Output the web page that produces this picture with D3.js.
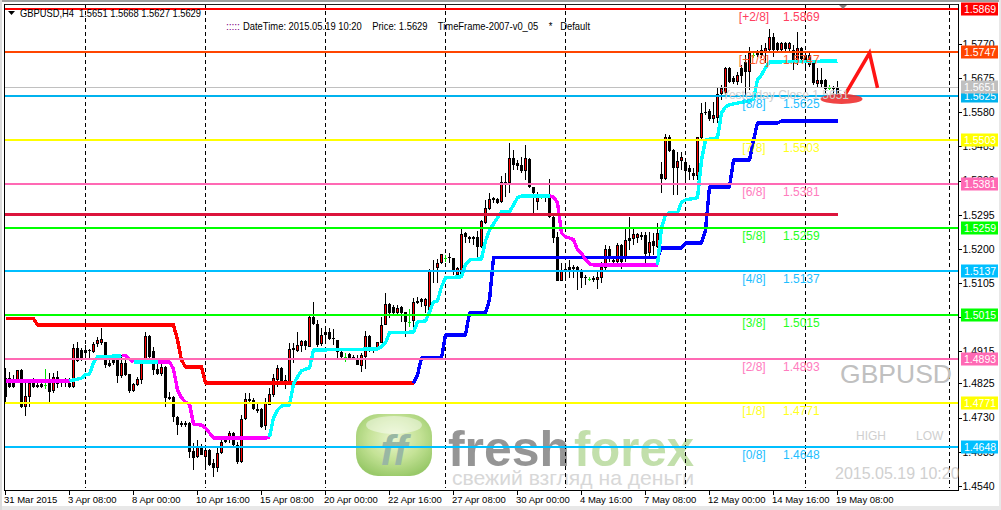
<!DOCTYPE html>
<html><head><meta charset="utf-8">
<style>html,body{margin:0;padding:0;background:#fff;overflow:hidden}svg{display:block}text{font-family:"Liberation Sans",Arial,sans-serif}</style>
<script src="https://cdn.jsdelivr.net/npm/d3@7/dist/d3.min.js"></script></head><body>
<svg id="c" width="1001" height="510"></svg>
<script>
const opens=[1.4840,1.4840,1.4837,1.4835,1.4863,1.4760,1.4787,1.4826,1.4821,1.4823,1.4821,1.4829,1.4804,1.4843,1.4835,1.4832,1.4826,1.4815,1.4924,1.4918,1.4918,1.4918,1.4913,1.4935,1.4938,1.4941,1.4882,1.4890,1.4904,1.4846,1.4882,1.4851,1.4804,1.4821,1.4835,1.4885,1.4957,1.4915,1.4865,1.4851,1.4871,1.4787,1.4787,1.4732,1.4715,1.4715,1.4715,1.4637,1.4620,1.4648,1.4620,1.4640,1.4604,1.4590,1.4631,1.4668,1.4676,1.4687,1.4654,1.4606,1.4726,1.4782,1.4779,1.4748,1.4754,1.4707,1.4765,1.4793,1.4835,1.4868,1.4835,1.4829,1.4924,1.4915,1.4929,1.4943,1.4927,1.5010,1.4991,1.4935,1.4968,1.4968,1.4952,1.4946,1.4913,1.4899,1.4907,1.4899,1.4890,1.4874,1.4899,1.4957,1.4924,1.4924,1.4938,1.4988,1.5046,1.5038,1.5021,1.5038,1.5024,1.4996,1.4999,1.5055,1.5060,1.5041,1.5024,1.5141,1.5147,1.5161,1.5175,1.5177,1.5175,1.5127,1.5127,1.5244,1.5233,1.5233,1.5233,1.5205,1.5272,1.5311,1.5342,1.5339,1.5330,1.5378,1.5383,1.5453,1.5439,1.5433,1.5417,1.5450,1.5372,1.5330,1.5347,1.5344,1.5342,1.5289,1.5233,1.5110,1.5144,1.5141,1.5149,1.5149,1.5141,1.5122,1.5116,1.5119,1.5113,1.5119,1.5147,1.5200,1.5169,1.5163,1.5211,1.5175,1.5230,1.5227,1.5230,1.5239,1.5239,1.5188,1.5222,1.5205,1.5408,1.5394,1.5511,1.5475,1.5425,1.5445,1.5442,1.5425,1.5411,1.5403,1.5509,1.5581,1.5584,1.5562,1.5564,1.5631,1.5634,1.5704,1.5676,1.5665,1.5704,1.5720,1.5692,1.5740,1.5745,1.5754,1.5748,1.5754,1.5790,1.5773,1.5754,1.5773,1.5757,1.5754,1.5720,1.5759,1.5740,1.5712,1.5718,1.5659,1.5670,1.5670,1.5648,1.5648,1.5651];
const highs=[1.4868,1.4857,1.4849,1.4863,1.4865,1.4829,1.4835,1.4840,1.4826,1.4835,1.4865,1.4854,1.4854,1.4860,1.4837,1.4840,1.4840,1.4935,1.4941,1.4924,1.4932,1.4921,1.4941,1.4954,1.4980,1.4941,1.4890,1.4904,1.4904,1.4904,1.4904,1.4851,1.4826,1.4843,1.4888,1.4968,1.4960,1.4927,1.4890,1.4885,1.4874,1.4801,1.4790,1.4734,1.4721,1.4721,1.4718,1.4659,1.4668,1.4656,1.4643,1.4643,1.4615,1.4645,1.4673,1.4676,1.4693,1.4690,1.4662,1.4737,1.4798,1.4798,1.4785,1.4768,1.4757,1.4785,1.4812,1.4851,1.4877,1.4871,1.4849,1.4938,1.4938,1.4968,1.4946,1.4946,1.5013,1.5052,1.5002,1.4980,1.4982,1.4980,1.4977,1.4946,1.4918,1.4910,1.4910,1.4904,1.4904,1.4910,1.4971,1.4960,1.4927,1.4941,1.5010,1.5077,1.5049,1.5044,1.5044,1.5041,1.5024,1.5032,1.5063,1.5066,1.5063,1.5063,1.5144,1.5169,1.5172,1.5186,1.5183,1.5188,1.5175,1.5149,1.5255,1.5247,1.5236,1.5236,1.5250,1.5280,1.5336,1.5355,1.5344,1.5342,1.5403,1.5411,1.5495,1.5475,1.5447,1.5456,1.5489,1.5453,1.5372,1.5358,1.5350,1.5350,1.5394,1.5291,1.5247,1.5161,1.5161,1.5169,1.5155,1.5152,1.5144,1.5127,1.5122,1.5124,1.5135,1.5163,1.5211,1.5208,1.5177,1.5216,1.5213,1.5258,1.5289,1.5261,1.5244,1.5247,1.5247,1.5247,1.5244,1.5272,1.5442,1.5520,1.5517,1.5478,1.5470,1.5470,1.5447,1.5433,1.5425,1.5511,1.5606,1.5609,1.5589,1.5609,1.5648,1.5656,1.5706,1.5706,1.5681,1.5692,1.5712,1.5740,1.5762,1.5748,1.5754,1.5768,1.5773,1.5812,1.5801,1.5776,1.5776,1.5776,1.5776,1.5768,1.5804,1.5762,1.5740,1.5745,1.5720,1.5704,1.5704,1.5673,1.5656,1.5654,1.5668];
const lows=[1.4773,1.4812,1.4812,1.4835,1.4757,1.4734,1.4760,1.4812,1.4812,1.4812,1.4810,1.4773,1.4798,1.4812,1.4815,1.4815,1.4812,1.4812,1.4885,1.4888,1.4890,1.4893,1.4910,1.4927,1.4932,1.4868,1.4871,1.4877,1.4826,1.4840,1.4846,1.4798,1.4801,1.4818,1.4823,1.4882,1.4896,1.4849,1.4849,1.4846,1.4760,1.4779,1.4718,1.4682,1.4704,1.4704,1.4617,1.4584,1.4617,1.4626,1.4584,1.4595,1.4565,1.4579,1.4629,1.4659,1.4659,1.4648,1.4601,1.4604,1.4723,1.4771,1.4751,1.4743,1.4701,1.4695,1.4765,1.4787,1.4815,1.4829,1.4810,1.4821,1.4882,1.4913,1.4913,1.4918,1.4927,1.4988,1.4927,1.4929,1.4941,1.4946,1.4932,1.4890,1.4890,1.4885,1.4890,1.4890,1.4877,1.4857,1.4865,1.4913,1.4910,1.4918,1.4938,1.4988,1.5007,1.5019,1.5016,1.4996,1.4954,1.4982,1.4968,1.5046,1.5038,1.5021,1.5021,1.5105,1.5105,1.5158,1.5163,1.5161,1.5127,1.5124,1.5122,1.5216,1.5216,1.5211,1.5175,1.5202,1.5269,1.5308,1.5328,1.5325,1.5328,1.5344,1.5355,1.5420,1.5420,1.5411,1.5392,1.5369,1.5300,1.5308,1.5339,1.5330,1.5286,1.5216,1.5110,1.5110,1.5119,1.5119,1.5119,1.5085,1.5091,1.5099,1.5110,1.5108,1.5088,1.5105,1.5141,1.5163,1.5161,1.5161,1.5144,1.5163,1.5197,1.5211,1.5216,1.5225,1.5161,1.5177,1.5183,1.5202,1.5355,1.5392,1.5470,1.5350,1.5350,1.5420,1.5392,1.5392,1.5392,1.5392,1.5503,1.5573,1.5556,1.5550,1.5550,1.5614,1.5628,1.5662,1.5659,1.5656,1.5662,1.5623,1.5642,1.5731,1.5734,1.5731,1.5718,1.5745,1.5734,1.5745,1.5748,1.5748,1.5748,1.5698,1.5712,1.5726,1.5706,1.5706,1.5656,1.5648,1.5648,1.5631,1.5642,1.5628,1.5627];
const closes=[1.4787,1.4815,1.4815,1.4863,1.4760,1.4790,1.4826,1.4815,1.4815,1.4815,1.4821,1.4801,1.4843,1.4823,1.4826,1.4826,1.4815,1.4924,1.4888,1.4893,1.4910,1.4915,1.4935,1.4946,1.4949,1.4877,1.4874,1.4882,1.4846,1.4882,1.4849,1.4804,1.4823,1.4837,1.4885,1.4957,1.4899,1.4863,1.4851,1.4871,1.4785,1.4782,1.4732,1.4709,1.4709,1.4709,1.4634,1.4617,1.4648,1.4626,1.4640,1.4598,1.4590,1.4631,1.4662,1.4662,1.4687,1.4654,1.4606,1.4726,1.4782,1.4776,1.4754,1.4754,1.4704,1.4771,1.4796,1.4840,1.4868,1.4832,1.4829,1.4921,1.4918,1.4932,1.4943,1.4929,1.5010,1.4991,1.4932,1.4960,1.4960,1.4949,1.4949,1.4913,1.4899,1.4899,1.4893,1.4893,1.4877,1.4904,1.4957,1.4924,1.4918,1.4941,1.4988,1.5046,1.5021,1.5021,1.5035,1.5021,1.4996,1.4996,1.5052,1.5049,1.5052,1.5060,1.5141,1.5138,1.5161,1.5186,1.5175,1.5175,1.5141,1.5147,1.5241,1.5233,1.5227,1.5227,1.5205,1.5277,1.5314,1.5339,1.5336,1.5328,1.5386,1.5386,1.5453,1.5433,1.5431,1.5417,1.5453,1.5372,1.5355,1.5344,1.5347,1.5342,1.5289,1.5230,1.5110,1.5141,1.5141,1.5149,1.5144,1.5141,1.5119,1.5119,1.5116,1.5113,1.5122,1.5149,1.5200,1.5177,1.5163,1.5211,1.5163,1.5225,1.5222,1.5241,1.5241,1.5233,1.5186,1.5219,1.5208,1.5244,1.5394,1.5511,1.5472,1.5425,1.5445,1.5456,1.5417,1.5414,1.5403,1.5511,1.5578,1.5578,1.5562,1.5573,1.5631,1.5648,1.5704,1.5665,1.5665,1.5684,1.5681,1.5692,1.5745,1.5740,1.5740,1.5740,1.5759,1.5790,1.5754,1.5754,1.5773,1.5757,1.5773,1.5720,1.5759,1.5729,1.5720,1.5740,1.5662,1.5670,1.5659,1.5645,1.5648,1.5645,1.5629];

const redBars=[0,7,8,42,43,44,45,49,50,102];
const redPrices=[1.5005,1.5005,1.4988,1.4988,1.4946,1.4890,1.4871,1.4871,1.4826,1.4826];
const blueBars=[102,103,104,109,110,115,116,120,121,122,163,164,169,170,174,175,176,181,182,186,187,188,193,194,208];
const bluePrices=[1.4826,1.4849,1.4896,1.4896,1.4960,1.4960,1.5021,1.5021,1.5058,1.5175,1.5175,1.5202,1.5202,1.5216,1.5216,1.5252,1.5372,1.5372,1.5447,1.5447,1.5503,1.5550,1.5550,1.5556,1.5556];
const magentaBars=[[0,16],[29,30,31,32],[38,41,42,43,44,45,46,47,49,50,51,52,65,66],[136,137,138,139,140,141,142,143,144,145,146,147,163]];
const magentaPrices=[[1.4832,1.4832],[1.4902,1.4902,1.4893,1.4885],[1.4885,1.4885,1.4865,1.4807,1.4785,1.4773,1.4768,1.4712,1.4709,1.4701,1.4687,1.4673,1.4673,1.4676],[1.5347,1.5344,1.5328,1.5244,1.5233,1.5230,1.5225,1.5197,1.5188,1.5169,1.5158,1.5155,1.5155]];
const cyanBars=[[16,18,19,20,21,22,23,29],[32,38],[66,67,68,69,71,72,73,74,75,76,77,93,94,95,96,102,103,105,106,107,108,109,110,114,115,116,119,120,121,122,123,124,126,127,128,129,136],[163,164,165,166,168,169,170,173,174,175,178,179,180,181,186,187,188,189,190,191,208]];
const cyanPrices=[[1.4832,1.4837,1.4840,1.4849,1.4851,1.4882,1.4899,1.4902],[1.4885,1.4885],[1.4676,1.4729,1.4751,1.4762,1.4765,1.4823,1.4843,1.4860,1.4865,1.4868,1.4918,1.4921,1.4927,1.4938,1.4966,1.4968,1.4996,1.4999,1.5024,1.5052,1.5055,1.5094,1.5119,1.5122,1.5155,1.5169,1.5172,1.5222,1.5252,1.5269,1.5286,1.5303,1.5303,1.5322,1.5342,1.5347,1.5347],[1.5155,1.5258,1.5294,1.5300,1.5300,1.5330,1.5336,1.5342,1.5447,1.5503,1.5509,1.5578,1.5595,1.5601,1.5612,1.5617,1.5670,1.5684,1.5704,1.5720,1.5723]];

const levelPrices=[1.5869,1.5747,1.5625,1.5503,1.5381,1.5259,1.5137,1.5015,1.4893,1.4771,1.4648];
const levelTags=["[+2/8]","[+1/8]","[8/8]","[7/8]","[6/8]","[5/8]","[4/8]","[3/8]","[2/8]","[1/8]","[0/8]"];
const levelColors=["#ff0000","#ff4500","#00b2ee","#ffff00","#ff69b4","#00ff00","#00bfff","#00ff00","#ff69b4","#ffff00","#00bfff"];
const levelTextColors=["#ff4060","#ff5a2a","#1ebeff","#ffff1e","#ff7cbe","#1eff1e","#1ebeff","#1eff1e","#ff7cbe","#ffff1e","#1ebeff"];
const yesterdayClose=1.5651, midline=1.5296;
const yTicks=[1.5770,1.5675,1.5580,1.5485,1.5390,1.5295,1.5200,1.5105,1.5010,1.4915,1.4825,1.4730,1.4635,1.4540];
const timeTickBars=[0,16,32,48,64,80,96,112,128,144,160,176,192,208];
const timeLabels=["31 Mar 2015","3 Apr 08:00","8 Apr 00:00","10 Apr 16:00","15 Apr 08:00","20 Apr 00:00","22 Apr 16:00","27 Apr 08:00","30 Apr 00:00","4 May 16:00","7 May 08:00","12 May 00:00","14 May 16:00","19 May 08:00"];
const gridBars=[20,50,80,110,140,170,200,236];
const arrowBars=[210,216,218], arrowPrices=[1.5631,1.5745,1.5648];
const markBar=209, markPrice=1.5617;

const svg=d3.select("#c");
const x=d3.scaleLinear().domain([0,208]).range([5.5,837.5]);
const y=d3.scaleLinear().domain([1.4648,1.5869]).range([447,8.5]);
const ry=p=>Math.round(y(p));
const L=5,R=958.5,T=4,B=490.5;

svg.append("rect").attr("width",1001).attr("height",510).attr("fill","#fff");
svg.append("rect").attr("width",1001).attr("height",2).attr("fill","#a0a0a0");
svg.append("rect").attr("y",506).attr("width",1001).attr("height",4).attr("fill","#e8e8e8");
svg.append("rect").attr("width",2).attr("height",510).attr("fill","#dcdcdc");
svg.append("rect").attr("x",999).attr("width",2).attr("height",510).attr("fill","#e8e8e8");
const defs=svg.append("defs");
defs.append("clipPath").attr("id","plot").append("rect").attr("x",L).attr("y",T).attr("width",R-L).attr("height",B-T);
const gr=defs.append("radialGradient").attr("id","lg").attr("cx","50%").attr("cy","40%").attr("r","62%");
gr.append("stop").attr("offset","0%").attr("stop-color","#e8f5c9");
gr.append("stop").attr("offset","55%").attr("stop-color","#bfe08c");
gr.append("stop").attr("offset","100%").attr("stop-color","#8fc45a");

// watermark logo
const logo=svg.append("g").attr("opacity",.9);
logo.append("rect").attr("x",356).attr("y",414).attr("width",76).attr("height",62).attr("rx",22).attr("fill","url(#lg)");
logo.append("ellipse").attr("cx",394).attr("cy",425).attr("rx",28).attr("ry",9).attr("fill","#fff").attr("opacity",.45);
logo.append("text").attr("x",394).attr("y",465).attr("text-anchor","middle").attr("font-size",42).attr("font-style","italic").attr("font-weight","bold").attr("fill","#8fb09a").text("ff");
logo.append("text").attr("x",448).attr("y",466).attr("font-size",50).attr("font-weight","bold").attr("fill","#8a8a8a").attr("textLength",122).attr("lengthAdjust","spacingAndGlyphs").text("fresh");
logo.append("text").attr("x",574).attr("y",466).attr("font-size",50).attr("font-weight","bold").attr("fill","#bcdca2").attr("textLength",120).attr("lengthAdjust","spacingAndGlyphs").text("forex");
logo.append("text").attr("x",452).attr("y",485).attr("font-size",21).attr("fill","#d4d4d4").attr("textLength",242).attr("lengthAdjust","spacingAndGlyphs").text("свежий взгляд на деньги");

// grid
svg.append("g").selectAll("line").data(gridBars).join("line")
 .attr("x1",d=>Math.round(x(d))+.5-1).attr("x2",d=>Math.round(x(d))+.5-1).attr("y1",T).attr("y2",488)
 .attr("stroke","#000").attr("stroke-dasharray","4 3").attr("shape-rendering","crispEdges");

// candles
const bars=d3.range(opens.length);
const g=svg.append("g").attr("shape-rendering","crispEdges");
const isDoji=i=>opens[i]===closes[i];
g.selectAll("line.w").data(bars).join("line").attr("class","w")
 .attr("x1",i=>x(i)).attr("x2",i=>x(i)).attr("y1",i=>y(highs[i])).attr("y2",i=>y(lows[i]))
 .attr("stroke",i=>isDoji(i)?"#00e000":"#000");
g.selectAll("rect.b").data(bars).join("rect").attr("class","b")
 .attr("x",i=>x(i)-1.5).attr("width",3)
 .attr("y",i=>y(Math.max(opens[i],closes[i])))
 .attr("height",i=>Math.max(1,Math.abs(y(opens[i])-y(closes[i]))))
 .attr("fill",i=>isDoji(i)?"#00e000":"#000");
g.selectAll("rect.r").data(bars.filter(i=>closes[i]>opens[i]&&y(opens[i])-y(closes[i])>3)).join("rect").attr("class","r")
 .attr("x",i=>x(i)-.5).attr("width",1)
 .attr("y",i=>y(closes[i])+1)
 .attr("height",i=>y(opens[i])-y(closes[i])-2)
 .attr("fill","#ff0000");

// indicator steps
const ln=(bs,ps)=>d3.line().x((d,i)=>x(bs[i])).y((d,i)=>y(ps[i]))(bs);
const stroke=(bs,ps,col,w=3.4)=>svg.append("path").attr("d",ln(bs,ps)).attr("fill","none").attr("stroke",col).attr("stroke-width",w).attr("stroke-linejoin","round").attr("shape-rendering","crispEdges");
stroke(redBars,redPrices,"#ff0000");
stroke(blueBars,bluePrices,"#0000ff");
magentaBars.forEach((b,i)=>stroke(b,magentaPrices[i],"#ff00ff"));
cyanBars.forEach((b,i)=>stroke(b,cyanPrices[i],"#00ffff"));

// level lines
svg.append("g").selectAll("line").data(levelPrices).join("line")
 .attr("x1",L).attr("x2",R).attr("y1",d=>ry(d)).attr("y2",d=>ry(d))
 .attr("stroke",(d,i)=>levelColors[i]).attr("stroke-width",2).attr("shape-rendering","crispEdges");
svg.append("line").attr("x1",L).attr("x2",R).attr("y1",ry(yesterdayClose)+.5).attr("y2",ry(yesterdayClose)+.5).attr("stroke","#c0c0c0").attr("shape-rendering","crispEdges");
svg.append("line").attr("x1",L).attr("x2",x(208)).attr("y1",y(midline)).attr("y2",y(midline)).attr("stroke","#dc143c").attr("stroke-width",3).attr("shape-rendering","crispEdges");

// arrow + mark
svg.append("ellipse").attr("cx",x(markBar)).attr("cy",y(markPrice)).attr("rx",21).attr("ry",5).attr("fill","#ee3030").attr("opacity",.9);
svg.append("path").attr("d",ln(arrowBars,arrowPrices)).attr("fill","none").attr("stroke","#ff1414").attr("stroke-width",3.5).attr("stroke-linejoin","miter");

// frame + right axis
const crisp=sel=>sel.attr("shape-rendering","crispEdges");
crisp(svg.append("line").attr("x1",L-1).attr("x2",R).attr("y1",T).attr("y2",T).attr("stroke","#222"));
crisp(svg.append("line").attr("x1",L-1).attr("x2",L-1).attr("y1",T).attr("y2",B).attr("stroke","#000"));
crisp(svg.append("line").attr("x1",L-1).attr("x2",R).attr("y1",B).attr("y2",B).attr("stroke","#000"));
crisp(svg.append("line").attr("x1",R).attr("x2",R).attr("y1",T).attr("y2",B).attr("stroke","#000"));
const ax=svg.append("g").attr("transform",`translate(${R},0)`)
 .call(d3.axisRight(y).tickValues(yTicks).tickFormat(d3.format(".4f")).tickSize(3).tickPadding(1));
ax.select(".domain").remove();
ax.selectAll("line").attr("stroke","#000").attr("shape-rendering","crispEdges");
ax.selectAll("text").attr("font-size",10.5).attr("fill","#000").attr("font-family","Liberation Sans");

const tags=svg.append("g");
const allP=levelPrices.concat([yesterdayClose]), allC=levelColors.concat(["#c0c0c0"]);
allP.forEach((p,i)=>{
 tags.append("rect").attr("x",961).attr("width",37).attr("y",Math.max(2,ry(p)-6.5)).attr("height",13).attr("fill",allC[i]);
 tags.append("text").attr("x",964).attr("y",Math.max(2,ry(p)-6.5)+10.3).attr("font-size",10.5).attr("fill","#fff").text(d3.format(".4f")(p));
});

// time axis
const tx=svg.append("g").attr("transform",`translate(0,${B})`);
tx.selectAll("line").data(timeTickBars).join("line").attr("x1",d=>x(d)-.5).attr("x2",d=>x(d)-.5).attr("y1",0).attr("y2",4).attr("stroke","#000").attr("shape-rendering","crispEdges");
tx.selectAll("text").data(timeTickBars).join("text").attr("x",d=>x(d)-1.5).attr("y",12.5).attr("font-size",9.5).attr("fill","#000").text((d,i)=>timeLabels[i]);

// level text labels
const lab=svg.append("g");
lab.selectAll("text.t").data(levelPrices).join("text").attr("class","t").attr("x",754).attr("y",d=>y(d)+12).attr("text-anchor","middle").attr("font-size",12).attr("fill",(d,i)=>levelTextColors[i]).text((d,i)=>levelTags[i]);
lab.selectAll("text.v").data(levelPrices).join("text").attr("class","v").attr("x",783).attr("y",d=>y(d)+12).attr("font-size",12).attr("fill",(d,i)=>levelTextColors[i]).text(d=>d3.format(".4f")(d));
svg.append("text").attr("x",722).attr("y",99).attr("font-size",12).attr("fill","#cfcfcf").text("Yesterday Close 1.5651");

// corner texts
svg.append("path").attr("d",d3.line()([[8,11],[15,11],[11.5,15]])+"Z").attr("fill","#000");
svg.append("text").attr("x",20).attr("y",16.5).attr("font-size",10.5).attr("fill","#000").attr("textLength",181).attr("lengthAdjust","spacingAndGlyphs").attr("xml:space","preserve").text("GBPUSD,H4  1.5651 1.5668 1.5627 1.5629");
svg.append("text").attr("x",226).attr("y",29.5).attr("font-size",10.5).attr("fill","#800080").attr("textLength",14).attr("xml:space","preserve").text(":::::");
svg.append("text").attr("x",243).attr("y",29.5).attr("font-size",10.5).attr("fill","#000").attr("textLength",347).attr("lengthAdjust","spacingAndGlyphs").attr("xml:space","preserve").text("DateTime: 2015.05.19 10:20    Price: 1.5629    TimeFrame-2007-v0_05    *   Default");
svg.append("path").attr("d",d3.line()([[839,5],[847,5],[843,9]])+"Z").attr("fill","#808080");
svg.append("text").attr("x",840).attr("y",383).attr("font-size",26).attr("fill","#c0c0c0").attr("textLength",112).attr("lengthAdjust","spacingAndGlyphs").text("GBPUSD");
svg.append("text").attr("x",856).attr("y",440).attr("font-size",12).attr("fill","#cfcfcf").text("HIGH");
svg.append("text").attr("x",916).attr("y",440).attr("font-size",12).attr("fill","#cfcfcf").text("LOW");
svg.append("g").attr("clip-path","url(#plot)").append("text").attr("x",835).attr("y",479).attr("font-size",16).attr("fill","#d0d0d0").text("2015.05.19 10:20");
</script></body></html>
